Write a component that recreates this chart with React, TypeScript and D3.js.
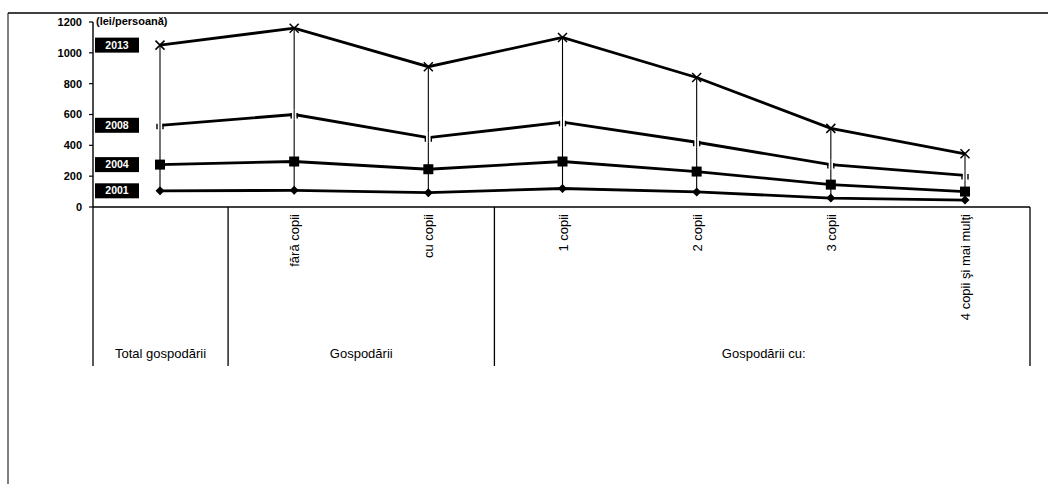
import React from "react";
import * as d3 from "d3";

const categories = ["Total", "fără copii", "cu copii", "1 copii", "2 copii", "3 copii", "4 copii şi mai mulţi"];
const seriesNames = ["2013", "2008", "2004", "2001"];
const s2013 = [1050, 1160, 910, 1100, 840, 510, 345];
const s2008 = [530, 600, 450, 550, 420, 275, 205];
const s2004 = [275, 295, 245, 295, 230, 145, 100];
const s2001 = [105, 108, 93, 120, 98, 58, 45];
const yTicks = [0, 200, 400, 600, 800, 1000, 1200];
const groups = [
  { label: "Total gospodării", from: 0, to: 0 },
  { label: "Gospodării", from: 1, to: 2 },
  { label: "Gospodării cu:", from: 3, to: 6 },
];

const series = [
  { name: seriesNames[0], values: s2013, marker: "x" },
  { name: seriesNames[1], values: s2008, marker: "dash" },
  { name: seriesNames[2], values: s2004, marker: "square" },
  { name: seriesNames[3], values: s2001, marker: "diamond" },
];

export default function App() {
  const W = 1048, H = 484;
  const axisX = 93;
  const x = d3.scalePoint<string>().domain(categories).range([160, 965]);
  const y = d3.scaleLinear().domain([0, 1200]).range([207, 22]);
  const step = x.step();
  const tableBottom = 366;
  const rightX = 1030;
  const line = d3.line<number>().x((_, i) => x(categories[i])!).y((v) => y(v));
  const font = "Arial, 'Liberation Sans', sans-serif";

  const dividers = [axisX, x(categories[0])! + step / 2 + 1, x(categories[2])! + step / 2 - 1, rightX];

  const marker = (kind: string, cx: number, cy: number, key: string) => {
    if (kind === "x")
      return (
        <path key={key} d={`M${cx - 4.5},${cy - 4.5}L${cx + 4.5},${cy + 4.5}M${cx - 4.5},${cy + 4.5}L${cx + 4.5},${cy - 4.5}`} stroke="#000" strokeWidth={1.5} />
      );
    if (kind === "dash")
      return (
        <g key={key}>
          <rect x={cx - 2.5} y={cy - 5} width={5} height={10} fill="#fff" />
          <path d={`M${cx - 3},${cy - 1.5}L${cx - 3},${cy + 4}M${cx + 3},${cy - 1.5}L${cx + 3},${cy + 4}`} stroke="#000" strokeWidth={1.4} />
          <line x1={cx} x2={cx} y1={cy - 5} y2={cy + 5} stroke="#000" strokeWidth={1} />
        </g>
      );
    if (kind === "square")
      return <rect key={key} x={cx - 5} y={cy - 5} width={10} height={10} fill="#000" />;
    return <path key={key} d={`M${cx},${cy - 4.5}L${cx + 4.5},${cy}L${cx},${cy + 4.5}L${cx - 4.5},${cy}Z`} fill="#000" />;
  };

  return (
    <svg width={W} height={H} style={{ position: "absolute", left: 0, top: 0, background: "#fff" }}>
      <rect x={0} y={0} width={W} height={H} fill="#fff" />
      {/* frame */}
      <line x1={8} x2={W} y1={13} y2={13} stroke="#000" strokeWidth={1.4} />
      <line x1={8} x2={8} y1={13} y2={H} stroke="#000" strokeWidth={1} />

      {/* y axis */}
      <line x1={axisX} x2={axisX} y1={y(1200)} y2={y(0)} stroke="#000" strokeWidth={1.4} />
      {yTicks.map((t) => (
        <g key={t}>
          <line x1={axisX - 4} x2={axisX} y1={y(t)} y2={y(t)} stroke="#000" strokeWidth={1.2} />
          <text x={axisX - 11} y={y(t)} dy="0.35em" textAnchor="end" fontFamily={font} fontWeight="bold" fontSize={11} fill="#000">
            {t}
          </text>
        </g>
      ))}
      <text x={axisX + 3} y={y(1200)} dy="0.3em" fontFamily={font} fontWeight="bold" fontSize={11} fill="#000">
        (lei/persoană)
      </text>

      {/* baseline & table */}
      <line x1={axisX} x2={rightX} y1={y(0)} y2={y(0)} stroke="#000" strokeWidth={1.4} />
      {dividers.map((dx, i) => (
        <line key={i} x1={dx} x2={dx} y1={y(0)} y2={tableBottom} stroke="#000" strokeWidth={1.3} />
      ))}

      {/* drop lines */}
      {categories.map((c, i) => (
        <line key={c} x1={x(c)} x2={x(c)} y1={y(s2013[i])} y2={y(s2001[i]) + 4} stroke="#000" strokeWidth={1.1} />
      ))}

      {/* series lines */}
      {series.map((s) => (
        <path key={s.name} d={line(s.values)!} fill="none" stroke="#000" strokeWidth={2.8} />
      ))}
      {series.map((s) => s.values.map((v, i) => marker(s.marker, x(categories[i])!, y(v), s.name + i)))}

      {/* series labels */}
      {series.map((s) => (
        <g key={"lab" + s.name}>
          <rect x={95} y={y(s.values[0]) - 7.5} width={44} height={15} fill="#000" />
          <text x={117} y={y(s.values[0])} dy="0.35em" textAnchor="middle" fontFamily={font} fontWeight="bold" fontSize={10.5} fill="#fff">
            {s.name}
          </text>
        </g>
      ))}

      {/* category labels */}
      {categories.slice(1).map((c) => (
        <text
          key={c}
          transform={`translate(${x(c)! + 5},214) rotate(-90)`}
          textAnchor="end"
          fontFamily={font}
          fontSize={13}
          fill="#000"
        >
          {c}
        </text>
      ))}

      {/* group labels */}
      {groups.map((g, i) => {
        const cx = i === 0 ? (dividers[0] + dividers[1]) / 2 : (x(categories[g.from])! + x(categories[g.to])!) / 2;
        return (
          <text key={g.label} x={cx} y={358} textAnchor="middle" fontFamily={font} fontSize={13} fill="#000">
            {g.label}
          </text>
        );
      })}
    </svg>
  );
}
